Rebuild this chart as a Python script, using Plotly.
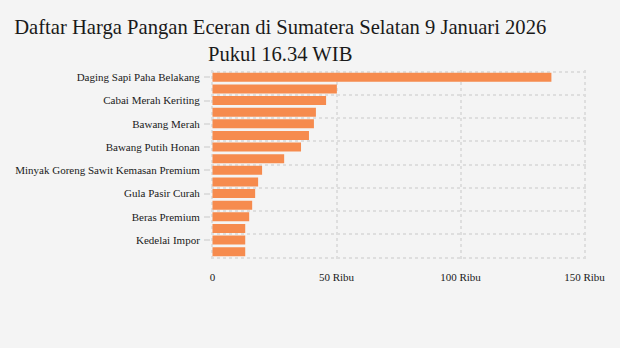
import plotly.graph_objects as go

# Retail food prices, South Sumatra, 9 January 2026 (Rupiah per unit)
commodities = [
    "Daging Sapi Paha Belakang",
    "Cabai Rawit Merah",
    "Cabai Merah Keriting",
    "Cabai Merah Besar",
    "Bawang Merah",
    "Daging Ayam Ras",
    "Bawang Putih Honan",
    "Telur Ayam Ras",
    "Minyak Goreng Sawit Kemasan Premium",
    "Minyak Goreng Sawit Curah",
    "Gula Pasir Curah",
    "Minyakita",
    "Beras Premium",
    "Beras Medium",
    "Kedelai Impor",
    "Tepung Terigu",
]
prices = [
    136650, 50150, 45800, 41700, 40900, 38900, 35700, 28900,
    20000, 18400, 17200, 16000, 14800, 13200, 13200, 13200,
]

x_tick_values = [0, 50000, 100000, 150000]
x_tick_labels = ["0", "50 Ribu", "100 Ribu", "150 Ribu"]

positions = list(range(len(commodities)))
label_positions = positions[::2]
label_texts = commodities[::2]

bg = "#F4F4F4"
grid = "#DEDEDE"
ink = "#1a1a1a"
serif = "Liberation Serif"

fig = go.Figure(
    go.Bar(
        x=prices,
        y=positions,
        orientation="h",
        marker=dict(color="#F68B4E", line=dict(width=0)),
        hovertext=commodities,
        hovertemplate="%{hovertext}: Rp%{x:,}<extra></extra>",
    )
)

fig.update_layout(
    width=620,
    height=348,
    paper_bgcolor=bg,
    plot_bgcolor=bg,
    margin=dict(l=210.8, r=33.5, t=69.5, b=89.2),
    bargap=0.22,
    showlegend=False,
    font=dict(family=serif, size=11, color=ink),
    title=dict(
        text="Daftar Harga Pangan Eceran di Sumatera Selatan 9 Januari 2026<br>Pukul 16.34 WIB",
        x=0.452,
        xanchor="center",
        xref="container",
        y=0.902,
        yanchor="top",
        font=dict(family=serif, size=20.6, color=ink),
    ),
)

# ranges padded by ~1.5 px on every side so the outermost gridlines stay visible
fig.update_xaxes(
    range=[-600, 150600],
    tickmode="array",
    tickvals=x_tick_values,
    ticktext=x_tick_labels,
    showgrid=True,
    gridcolor=grid,
    griddash="dot",
    gridwidth=2,
    zeroline=False,
    showline=False,
    ticks="",
    ticklabelstandoff=10,
    automargin=False,
    tickfont=dict(family=serif, size=11, color=ink),
)

fig.update_yaxes(
    range=[len(commodities) - 0.5 + 0.129, -0.5 - 0.129],
    tickmode="array",
    tickvals=label_positions,
    ticktext=label_texts,
    showgrid=False,
    zeroline=False,
    showline=False,
    ticks="outside",
    ticklen=6,
    tickwidth=2,
    tickcolor=grid,
    ticklabelstandoff=2,
    automargin=False,
    tickfont=dict(family=serif, size=11, color=ink),
    minor=dict(
        tickmode="linear",
        tick0=-0.5,
        dtick=2,
        showgrid=True,
        gridcolor=grid,
        griddash="dot",
        gridwidth=2,
        ticks="",
    ),
)

fig.write_html("out.html")
